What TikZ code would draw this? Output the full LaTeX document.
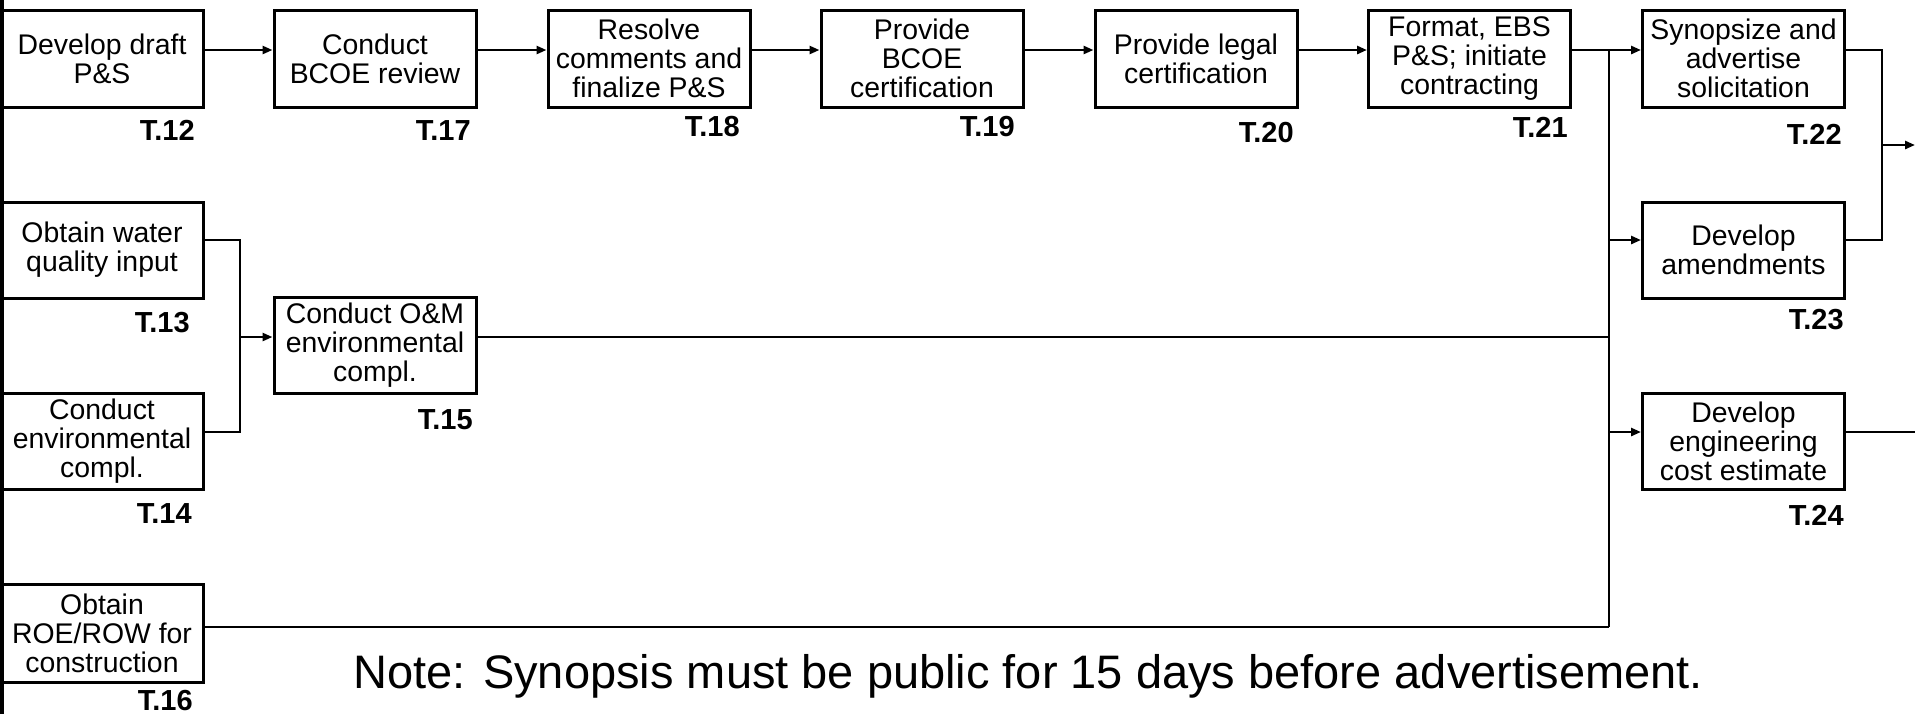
\documentclass[tikz,border=0pt]{standalone}
\usepackage{fontspec}
\setmainfont{Liberation Sans}
\usetikzlibrary{arrows.meta}
\begin{document}
\begin{tikzpicture}[x=0.5pt,y=-0.5pt,
  box/.style={draw, line width=1.5pt, minimum width=101pt, minimum height=48pt, inner sep=0pt, align=center, font=\fontsize{14.2}{14.5}\selectfont},
  lab/.style={inner sep=0pt, anchor=east, font=\bfseries\fontsize{14.5}{15}\selectfont},
  conn/.style={line width=1.3pt},
  arr/.style={conn, -{Triangle[length=5pt,width=4pt]}},
  edge/.style={line width=1.9pt}
]
\useasboundingbox (0,0) rectangle (1915,714);
% level coordinates
\coordinate (r1) at (0,50);
\coordinate (r2) at (0,240);
\coordinate (r3) at (0,432);
\coordinate (r4) at (0,337);
\coordinate (r5) at (0,145);
\coordinate (r6) at (0,627);
\coordinate (mx) at (240,0);
\coordinate (vx) at (1609,0);
\coordinate (jx) at (1882,0);
\coordinate (ex) at (1915,0);
\coordinate (lt) at (1.9,0);
\coordinate (lb) at (1.9,714);

% boxes
\node[box, minimum height=48.5pt] (t12) at (102,58.5) {Develop draft\\P\&S};
\node[box, minimum height=48.5pt] (t17) at (375,58.5) {Conduct\\BCOE review};
\node[box, minimum height=48.5pt] (t18) at (649,58.5) {Resolve\\comments and\\finalize P\&S};
\node[box, minimum height=48.5pt] (t19) at (922,58.5) {Provide\\BCOE\\certification};
\node[box, minimum height=48.5pt] (t20) at (1196,58.5) {Provide legal\\certification};
\node[box, minimum height=48.5pt] (t21) at (1469.5,58.5) {Format, EBS\\P\&S; initiate\\contracting};
\node[box, minimum height=48.5pt] (t22) at (1743.5,58.5) {Synopsize and\\advertise\\solicitation};
\node[box] (t13) at (102,250) {Obtain water\\quality input};
\node[box] (t14) at (102,441) {Conduct\\environmental\\compl.};
\node[box] (t15) at (375,345) {Conduct O\&M\\environmental\\compl.};
\node[box, minimum height=49pt] (t16) at (102,633) {Obtain\\ROE/ROW for\\construction};
\node[box] (t23) at (1743.5,250) {Develop\\amendments};
\node[box] (t24) at (1743.5,441) {Develop\\engineering\\cost estimate};

% labels
\node[lab] (l12) at (195,130) {T.12};
\node[lab] (l17) at (471,131) {T.17};
\node[lab] (l18) at (740,127) {T.18};
\node[lab] (l19) at (1015,127) {T.19};
\node[lab] (l20) at (1294,133) {T.20};
\node[lab] (l21) at (1568,127) {T.21};
\node[lab] (l22) at (1842,134) {T.22};
\node[lab] (l13) at (190,323) {T.13};
\node[lab] (l14) at (192,514) {T.14};
\node[lab] (l15) at (473,420) {T.15};
\node[lab] (l23) at (1844,320) {T.23};
\node[lab] (l24) at (1844,515) {T.24};
\node[lab] (l16) at (193,700) {T.16};

\node[anchor=base west, inner sep=0pt, font=\fontsize{23.5}{25}\selectfont] (note) at (353,688) {Note: Synopsis must be public for 15 days before advertisement.};

% left border line
\draw[edge] (lt) -- (lb);

% top row
\draw[arr] (t12.east |- r1) -- (t17.west |- r1);
\draw[arr] (t17.east |- r1) -- (t18.west |- r1);
\draw[arr] (t18.east |- r1) -- (t19.west |- r1);
\draw[arr] (t19.east |- r1) -- (t20.west |- r1);
\draw[arr] (t20.east |- r1) -- (t21.west |- r1);
\draw[arr] (t21.east |- r1) -- (t22.west |- r1);

% merge T.13/T.14 into T.15
\draw[conn] (t13.east |- r2) -| (mx |- r4);
\draw[conn] (t14.east |- r3) -| (mx |- r4);
\draw[arr] (mx |- r4) -- (t15.west |- r4);

% bus
\draw[conn] (vx |- r1) -- (vx |- r6);
\draw[conn] (t15.east |- r4) -- (vx |- r4);
\draw[conn] (t16.east |- r6) -- (vx |- r6);
\draw[arr] (vx |- r2) -- (t23.west |- r2);
\draw[arr] (vx |- r3) -- (t24.west |- r3);

% outputs on the right
\draw[conn] (t22.east |- r1) -| (jx |- r5);
\draw[conn] (t23.east |- r2) -| (jx |- r5);
\draw[arr] (jx |- r5) -- (ex |- r5);
\draw[conn] (t24.east |- r3) -- (ex |- r3);
\end{tikzpicture}
\end{document}
